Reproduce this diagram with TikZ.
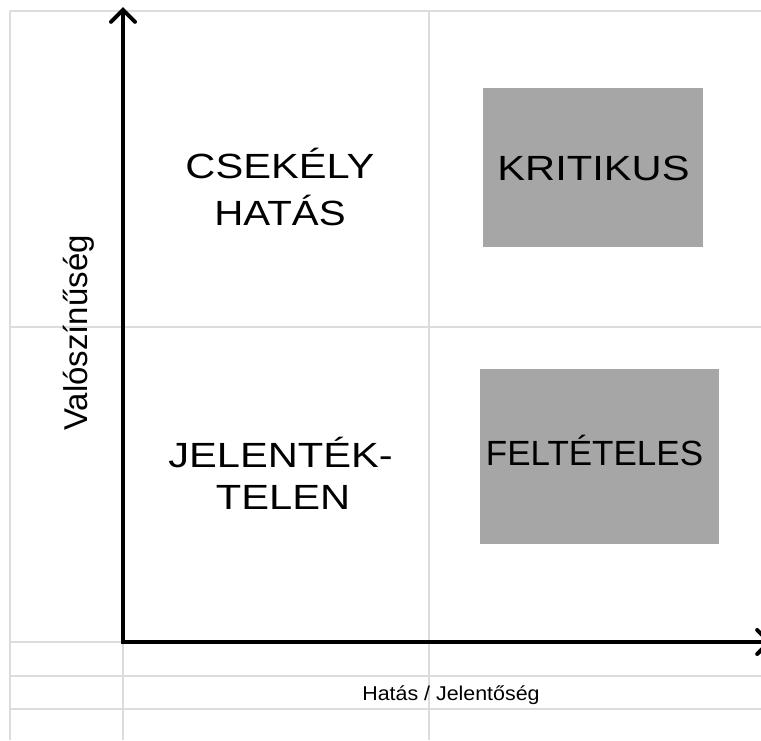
\documentclass[tikz,border=0pt]{standalone}
\usepackage{fontspec}
\setmainfont{Liberation Sans}
\usetikzlibrary{arrows.meta}
\definecolor{gridgray}{HTML}{DCDCDC}
\definecolor{boxgray}{HTML}{A6A6A6}
\newcommand{\widetext}[1]{\scalebox{1.19}[1]{#1}}
\begin{document}
\begin{tikzpicture}[x=1pt,y=-1pt,
  gridline/.style={draw=gridgray,line width=1.5pt},
  axisline/.style={line width=4pt,-{Straight Barb[length=12pt,width=24pt,line cap=round]}},
  biglabel/.style={font=\fontsize{35}{40}\selectfont,anchor=base,inner sep=0pt},
  graybox/.style={fill=boxgray,draw=none,inner sep=0pt}]
\useasboundingbox (0,0) rectangle (761,740);
\clip (0,0) rectangle (761,740);
% grid
\draw[gridline] (10,11) -- (761,11);
\draw[gridline] (10,327) -- (761,327);
\draw[gridline] (10,642) -- (761,642);
\draw[gridline] (10,676) -- (761,676);
\draw[gridline] (10,709) -- (761,709);
\draw[gridline] (10,11) -- (10,740);
\draw[gridline] (123,11) -- (123,740);
\draw[gridline] (429,11) -- (429,740);
% boxes
\node[graybox,minimum width=220pt,minimum height=159pt] (kbox) at (593,167.5) {};
\node[graybox,minimum width=239pt,minimum height=175pt] (fbox) at (599.5,456.5) {};
% labels
\node[biglabel] (cs1) at (280,178) {\widetext{CSEKÉLY}};
\node[biglabel] (cs2) at (280,225) {\scalebox{1.15}[1]{HATÁS}};
\node[biglabel] (je1) at (280.5,467) {\widetext{JELENTÉK-}};
\node[biglabel] (je2) at (283,509) {\widetext{TELEN}};
\node[biglabel] (kr) at (593.5,180) {\widetext{KRITIKUS}};
\node[biglabel] (fe) at (594.5,465) {FELTÉTELES};
\node[font=\fontsize{20}{24}\selectfont,anchor=base,inner sep=0pt] (xlab) at (451,700) {\scalebox{1.07}[1]{Hatás / Jelentőség}};
\node[font=\fontsize{33}{38}\selectfont,anchor=base,inner sep=0pt,rotate=90] (ylab) at (87,333) {Valószínűség};
% axes
\coordinate (origin) at (123,642);
\coordinate (ytip) at (123,7);
\coordinate (xtip) at (772,642);
\draw[axisline] ([yshift=2pt]origin) -- (ytip);
\draw[axisline] ([xshift=-2pt]origin) -- (xtip);
\end{tikzpicture}
\end{document}
